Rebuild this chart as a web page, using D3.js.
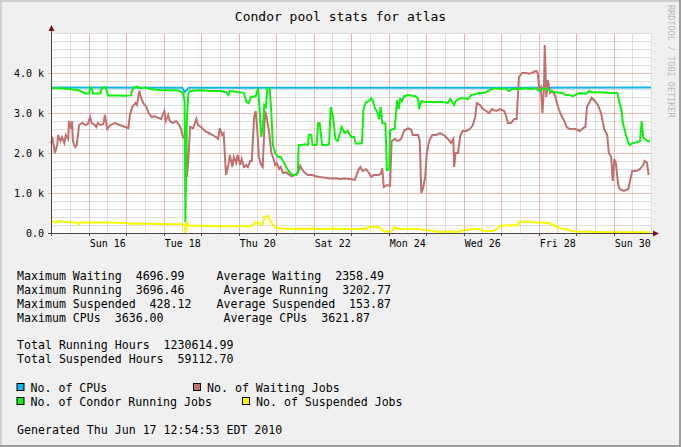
<!DOCTYPE html>
<html><head><meta charset="utf-8">
<script src="https://cdn.jsdelivr.net/npm/d3@7"></script>
<style>
body{margin:0;background:#F0F0F0;overflow:hidden;}
svg text{font-family:"DejaVu Sans Mono",monospace;white-space:pre;}
</style></head><body>
<svg id="c" width="681" height="447"></svg>
<script>
// ---------- data (time in hours from Sat 15 May 2010 00:00) ----------
const startTime = Date.UTC(2010, 4, 15, 0, 0, 0);
const spanHours = 384;

const cpuHours  = [0, 84, 85.5, 86.5, 88, 384];
const cpuValues = [3636, 3630, 3520, 3560, 3630, 3636];

const waitingHours = [0,1,2.5,4,4.5,6,7,8.5,9.5,11,11.5,13,13.5,14,15.5,16.5,18,20,22,23.5,25,26,27.5,29,30,31.5,33.5,34.5,36,38,41,44,47.5,49.5,50.5,52,54,55,56.5,57.5,59,61,62.5,64.5,66.5,68.5,70.5,72.5,73.5,75,76,78,80,82,83.2,84.5,85,86.5,87,88,89,91,93,94,96,98.5,101,103.5,105.5,107,108,109.5,110.5,112,113.5,114.5,116,117,118.5,119.5,121,122,123.5,125,126,127.5,128.5,130,131,132,133,134.5,135.5,137,138,139.5,141,142,143.5,144.5,146,147,148.5,150.5,152.5,154,156,158,159.5,160.5,162.5,164.5,167,169.5,172,175.5,178.5,182,185,188,191.5,194.5,196.5,198,199.5,201.5,203.5,205,206.5,209.5,211,212,213,215,217,218,220,222,224,226,228.5,230.5,231.5,235,236,237,238,239.5,240.5,242,244,246.5,249,251.5,254,256,257.5,258,259,260.5,262,263.5,266,268,270,271.5,272.5,274.5,276.5,278.5,280.5,282,285,287.5,290,291,292.5,294.5,296.5,298,299.5,301.5,304,306.5,308.5,310.5,311.5,312.5,313.5,314.5,315.5,316,317,318,319.5,320.5,322.5,324.5,326.5,328.5,330,332,335.5,338.5,340.5,342,343,345,346,348,350,352,354,356,357,358.5,359.5,360.5,361.5,363,364,366.5,369.5,370.5,372,374.5,377,379,380,381.5,382.5];
const waitingValues = [2250,2350,2000,2200,2450,2300,2400,2250,2450,2350,2800,2600,2800,2300,2150,2200,2700,2750,2700,2720,2900,2750,2720,2650,2750,2700,2720,2950,2600,2700,2750,2700,2650,2620,2950,3150,3250,3200,3550,3400,3250,3150,3000,2900,2920,2880,2850,3050,2800,2950,2800,2750,2800,2700,2600,2400,2380,2300,1400,1900,2650,2620,2850,2700,2650,2550,2500,2450,2400,2350,2620,2450,2500,1450,1700,1950,1650,1900,1750,1950,1700,1850,1650,1700,1650,1800,1800,2900,3050,2600,1900,1700,1650,3050,2900,2550,2000,1900,1700,1750,1600,1650,1500,1520,1450,1420,1450,1500,1680,1600,1500,1450,1450,1420,1400,1380,1360,1370,1350,1360,1350,1330,1550,1650,1550,1600,1500,1400,1450,1450,1480,1620,1150,1200,1180,2300,2350,2300,2350,2550,2620,2580,2450,2450,2300,1000,1100,1400,2000,2300,2450,2450,2500,2450,2350,2250,2350,1650,2000,2000,2450,2550,2550,2600,2700,2900,3250,3200,3100,3050,3000,3100,3050,3100,3050,2950,2750,2750,2850,2850,3900,4000,4000,3980,4020,4050,4000,3600,3650,3000,3600,4697,3400,3820,3500,3550,3450,3150,2950,2800,2650,2600,2600,2550,2620,2650,3150,3300,3380,3300,3200,3000,2600,2450,2000,1900,1300,1850,1750,1200,1100,1050,1100,1300,1550,1550,1600,1700,1800,1750,1450];

const runningHours = [0,6,12,17.5,20.5,22.5,24.5,25,26,27,31.5,32.5,35,36.5,41,47.5,51,52.5,55,57,60,63.5,70,76,81.5,84.5,85.5,86,87,88,89,95.5,102,108,112,113.5,114.5,121,123.5,125,126.5,128,131,132.5,133.5,134.5,135.5,136.5,137.5,138.5,140,141,142,143.5,145.5,147,148.5,150.5,153,155,157,158,158.5,160.5,162.5,164.5,165,166.5,167.5,170,171,172,173.5,176,178,179,180.5,182,183.5,185,186,188,190,192,194,195,198,199,200,201.5,203.5,205,206,207.5,208.5,210,211,212,214,215,216.5,217,219,220,221.5,222.5,223.5,224.5,226,228.5,231,233.5,235,235.5,237,239.5,242.5,246.5,249,252,254,255.5,256.5,258,259,262,265,267,269,271.5,273.5,276,278.5,281,284,287.5,290.5,293,295,300,303.5,306.5,310,312.5,314.5,317,319.5,323,327.5,329.5,332,334,336.5,338.5,342.5,344.5,346,351.5,358,362.5,363.5,365,366,368,369.5,370.5,372.5,375,377,378,379,380,382,383.5];
const runningValues = [3620,3620,3600,3570,3520,3490,3490,3640,3630,3490,3490,3630,3640,3440,3440,3430,3440,3630,3660,3620,3640,3600,3570,3570,3560,3500,3300,270,2900,3500,3550,3570,3550,3550,3520,3450,3550,3520,3500,3280,3250,3400,3420,3620,3100,2400,2600,3200,3150,3620,3620,3000,2200,2000,1900,1900,1800,1650,1500,1450,1450,1550,2200,2200,2220,2200,2450,2450,2200,2200,2750,2740,2200,2200,2220,3150,2900,2350,2300,2500,2650,2500,2550,2400,2400,2240,2240,2250,3100,3270,3300,3370,3300,3100,3050,2850,3150,2750,2740,1570,1600,2570,2600,2600,3320,3100,3350,3300,3420,3450,3430,3420,3350,3100,3300,3270,3280,3270,3280,3270,3250,3350,3300,3200,3300,3370,3370,3350,3450,3470,3500,3500,3520,3580,3620,3600,3620,3550,3600,3600,3620,3600,3620,3550,3600,3620,3550,3520,3500,3450,3450,3420,3470,3500,3480,3550,3520,3520,3500,3500,3300,3100,2750,2450,2250,2200,2250,2270,2300,2800,2400,2350,2300,2280];

const suspendedHours = [0,2,3,4.5,7,12,16.5,18,19,25,38,48.5,50.5,63.5,76,84.5,85.5,86,87,88,95.5,108,127.5,129.5,131,133,134.5,135.5,136.5,138,139,139.5,141.5,143.5,146.5,157.5,159.5,166,167,168.5,178.5,180,181,201,204,209.5,211,213,218,219.5,222,236,239.5,244.5,246.5,262,263.5,268,269,274.5,276.5,283,285,287.5,299,299.5,306.5,310,316,319.5,321.5,324,326,329,332,335.5,345,358,383.5];
const suspendedValues = [300,280,250,300,280,270,260,210,260,260,260,250,230,230,220,220,200,0,250,180,180,170,170,200,270,250,200,220,400,420,428,380,220,150,110,100,110,100,130,100,100,130,100,100,160,150,100,40,40,150,100,100,70,60,30,30,70,80,100,100,50,50,90,180,200,280,280,260,260,240,200,150,120,100,60,40,30,20,20];

const yTickValues = [0, 1000, 2000, 3000, 4000];
const xLabelDays = [1, 3, 5, 7, 9, 11, 13, 15];
const titleText = "Condor pool stats for atlas";
const statLines = [
  ["Maximum Waiting  4696.99", "Average Waiting  2358.49", 0],
  ["Maximum Running  3696.46", "Average Running  3202.77", 1],
  ["Maximum Suspended  428.12", "Average Suspended  153.87", 0],
  ["Maximum CPUs  3636.00", "Average CPUs  3621.87", 1]
];
const totalLines = ["Total Running Hours  1230614.99", "Total Suspended Hours  59112.70"];
const seriesNames  = ["No. of CPUs", "No. of Waiting Jobs", "No. of Condor Running Jobs", "No. of Suspended Jobs"];
const seriesColors = ["#14B4E8", "#C0706E", "#10F010", "#F8F800"];
const generatedText = "Generated Thu Jun 17 12:54:53 EDT 2010";
const watermark = "RRDTOOL / TOBI OETIKER";

// ---------- drawing ----------
const svg = d3.select("#c");
const P = {l: 51, r: 651, t: 33, b: 233};
const toDate = h => new Date(startTime + h * 3600e3);
const x = d3.scaleUtc().domain([toDate(0), toDate(spanHours)]).range([P.l, P.r]);
const y = d3.scaleLinear().domain([0, 5000]).range([P.b, P.t]);
const px = v => Math.round(v) + 0.5;

svg.append("rect").attr("width", 681).attr("height", 447).attr("fill", "#F0F0F0");
// frame
svg.append("rect").attr("x",0).attr("y",0).attr("width",681).attr("height",2).attr("fill","#CFCFCF");
svg.append("rect").attr("x",0).attr("y",0).attr("width",2).attr("height",447).attr("fill","#CFCFCF");
svg.append("rect").attr("x",0).attr("y",445).attr("width",681).attr("height",2).attr("fill","#9E9E9E");
svg.append("rect").attr("x",679).attr("y",0).attr("width",2).attr("height",447).attr("fill","#9E9E9E");

svg.append("rect").attr("x", P.l).attr("y", P.t).attr("width", P.r - P.l).attr("height", P.b - P.t).attr("fill", "#FFFFFF");

const g = svg.append("g");
// minor grid
const minorT = d3.utcHour.every(12).range(toDate(0), toDate(spanHours + 1));
g.selectAll(".vmin").data(minorT).join("line")
  .attr("x1", d => px(x(d))).attr("x2", d => px(x(d))).attr("y1", P.t).attr("y2", P.b)
  .attr("stroke", "#DEDEDE").attr("stroke-width", 1);
const minorY = d3.range(200, 5001, 200);
g.selectAll(".hmin").data(minorY).join("line")
  .attr("y1", d => px(y(d))).attr("y2", d => px(y(d))).attr("x1", P.l).attr("x2", P.r)
  .attr("stroke", "#DEDEDE").attr("stroke-width", 1);
// major grid
const majorT = d3.utcDay.range(toDate(1), toDate(spanHours));
g.selectAll(".vmaj").data(majorT).join("line")
  .attr("x1", d => px(x(d))).attr("x2", d => px(x(d))).attr("y1", P.t).attr("y2", P.b + 3)
  .attr("stroke", "#EFB3B3").attr("stroke-width", 1);
g.selectAll(".hmaj").data(yTickValues.filter(v => v > 0)).join("line")
  .attr("y1", d => px(y(d))).attr("y2", d => px(y(d))).attr("x1", P.l - 3).attr("x2", P.r)
  .attr("stroke", "#EFB3B3").attr("stroke-width", 1);

// series
const mk = (hs, vs) => hs.map((h, i) => ({t: toDate(h), v: vs[i]}));
const series = [mk(cpuHours, cpuValues), mk(waitingHours, waitingValues), mk(runningHours, runningValues), mk(suspendedHours, suspendedValues)];
const line = d3.line().x(d => x(d.t)).y(d => y(d.v));
series.forEach((s, i) => {
  svg.append("path").attr("d", line(s)).attr("fill", "none")
    .attr("stroke", seriesColors[i]).attr("stroke-width", 2).attr("stroke-linejoin", "miter");
});

// axes
const axisCol = "#4F4545";
svg.append("line").attr("x1", P.l - 3).attr("x2", P.r + 4).attr("y1", P.b + 0.5).attr("y2", P.b + 0.5).attr("stroke", axisCol);
svg.append("line").attr("x1", P.l + 0.5).attr("x2", P.l + 0.5).attr("y1", P.b + 3).attr("y2", P.t - 5).attr("stroke", axisCol);
svg.append("path").attr("d", `M${P.r + 8},${P.b + 0.5} L${P.r + 2},${P.b - 2.5} L${P.r + 2},${P.b + 3.5} Z`).attr("fill", "#7F1010");
svg.append("path").attr("d", `M${P.l + 0.5},${P.t - 8} L${P.l - 2.5},${P.t - 2} L${P.l + 3.5},${P.t - 2} Z`).attr("fill", "#7F1010");
svg.selectAll(".xt").data(majorT).join("line")
  .attr("x1", d => px(x(d))).attr("x2", d => px(x(d))).attr("y1", P.b).attr("y2", P.b + 3).attr("stroke", axisCol);

// axis labels via d3 axes
const yAxis = d3.axisLeft(y).tickValues(yTickValues).tickSize(0).tickPadding(0)
  .tickFormat(d => d === 0 ? "0.0" : (d / 1000).toFixed(1) + " k");
const ya = svg.append("g").attr("transform", `translate(${P.l - 7},0)`).call(yAxis);
ya.select(".domain").remove();
ya.selectAll("text").attr("font-family", "DejaVu Sans Mono").attr("font-size", 10).attr("fill", "#000");

const xAxis = d3.axisBottom(x).tickValues(xLabelDays.map(d => toDate(d * 24 + 12))).tickSize(0).tickPadding(0)
  .tickFormat(d3.utcFormat("%a %d"));
const xa = svg.append("g").attr("transform", `translate(0,${P.b + 7})`).call(xAxis);
xa.select(".domain").remove();
xa.selectAll("text").attr("font-family", "DejaVu Sans Mono").attr("font-size", 10).attr("fill", "#000");

// title
svg.append("text").attr("x", 340.5).attr("y", 21).attr("text-anchor", "middle")
  .attr("font-size", 13).attr("fill", "#000").text(titleText);

// watermark
svg.append("text").attr("transform", "translate(668,5) rotate(90)")
  .attr("font-size", 8.5).attr("fill", "#B8B8B8").text(watermark);

// stats
const fs = 11.6;
statLines.forEach((r, i) => {
  const yy = 279.5 + i * 14;
  svg.append("text").attr("x", 17).attr("y", yy).attr("font-size", fs).text(r[0]);
  svg.append("text").attr("x", r[2] ? 223.5 : 216.5).attr("y", yy).attr("font-size", fs).text(r[1]);
});
totalLines.forEach((t, i) => {
  svg.append("text").attr("x", 17).attr("y", 349 + i * 14).attr("font-size", fs).text(t);
});

// legend
const legPos = [[17, 383.5, 30.5], [193.5, 383.5, 207], [17, 397.5, 30.5], [242.5, 397.5, 256]];
seriesNames.forEach((n, i) => {
  const [sx, sy, tx] = legPos[i];
  svg.append("rect").attr("x", sx).attr("y", sy).attr("width", 7).attr("height", 7)
    .attr("fill", seriesColors[i]).attr("stroke", "#000").attr("stroke-width", 1);
  svg.append("text").attr("x", tx).attr("y", sy + 8).attr("font-size", fs).text(n);
});
svg.append("text").attr("x", 17).attr("y", 433.5).attr("font-size", fs).text(generatedText);
</script>
</body></html>
